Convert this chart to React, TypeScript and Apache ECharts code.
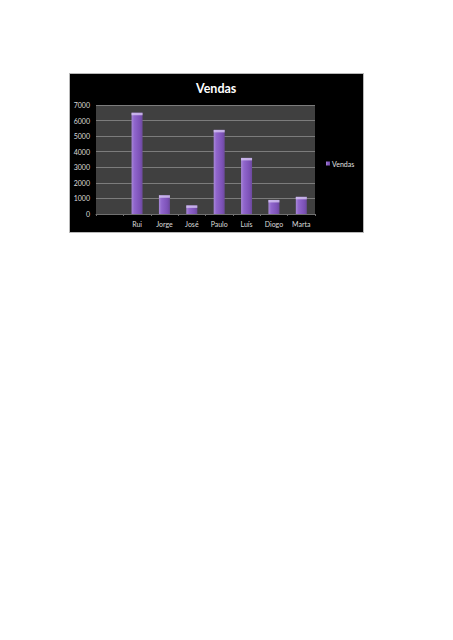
import { useEffect, useRef } from "react"
import * as echarts from "echarts"

const categories = ["", "Rui", "Jorge", "José", "Paulo", "Luís", "Diogo", "Marta"]
const vendas: (number | string)[] = ["-", 6500, 1200, 550, 5400, 3600, 900, 1100]
const yTicks = { min: 0, max: 7000, interval: 1000 }

const FONT = "Lato, 'Open Sans', sans-serif"

export default function App() {
  const chartRef = useRef<HTMLDivElement>(null)

  useEffect(() => {
    if (!chartRef.current) return
    const chart = echarts.init(chartRef.current, null, { renderer: "svg" })

    const option: echarts.EChartsOption = {
      animation: false,
      backgroundColor: "#ffffff",
      textStyle: { fontFamily: FONT },
      graphic: [
        {
          type: "rect",
          z: -10,
          shape: { x: 69.5, y: 73.5, width: 294, height: 159 },
          style: { fill: "#000000", stroke: "#b8b8b8", lineWidth: 1 },
        },
      ],
      title: {
        text: "Vendas",
        left: 196,
        top: 82,
        textStyle: { color: "#ffffff", fontSize: 12.5, fontWeight: "bold", fontFamily: FONT },
        padding: 0,
      },
      legend: {
        data: ["Vendas"],
        left: 326,
        top: 160,
        icon: "rect",
        itemWidth: 4,
        itemHeight: 4,
        padding: 0,
        textStyle: { color: "#e0e0e0", fontSize: 7, fontFamily: FONT, padding: [0, 0, 0, -3] },
      },
      grid: {
        left: 96,
        top: 105,
        right: 138,
        bottom: 426,
        show: true,
        backgroundColor: "#404040",
        borderWidth: 0,
      },
      xAxis: {
        type: "category",
        data: categories,
        axisLine: { lineStyle: { color: "#707070", width: 1 } },
        axisTick: { show: true, length: 2, lineStyle: { color: "#707070" } },
        axisLabel: { color: "#dcdcdc", fontSize: 7, margin: 6, fontFamily: FONT, interval: 0 },
      },
      yAxis: {
        type: "value",
        min: yTicks.min,
        max: yTicks.max,
        interval: yTicks.interval,
        axisLine: { show: false },
        axisTick: { show: false },
        axisLabel: {
          color: "#dcdcdc",
          fontSize: 7,
          margin: 6,
          fontFamily: FONT,
          formatter: (v: number) => String(v),
        },
        splitLine: { lineStyle: { color: "#7c7c7c", width: 1 } },
      },
      series: [
        {
          name: "Vendas",
          type: "bar",
          data: vendas,
          barWidth: 11,
          itemStyle: {
            color: new echarts.graphic.LinearGradient(0, 0, 1, 0, [
              { offset: 0, color: "#a888d8" },
              { offset: 0.25, color: "#9066cc" },
              { offset: 0.75, color: "#7d52b8" },
              { offset: 1, color: "#6c4a9c" },
            ]),
          },
        },
        {
          name: "topo",
          type: "scatter",
          data: vendas,
          symbol: "rect",
          symbolSize: [11, 2.5],
          symbolOffset: [0, 1.2],
          itemStyle: { color: "#d6c6f2" },
          z: 3,
          silent: true,
          tooltip: { show: false },
        },
      ],
    }

    chart.setOption(option)
    return () => chart.dispose()
  }, [])

  return (
    <div
      ref={chartRef}
      style={{ position: "fixed", left: 0, top: 0, width: 453, height: 640 }}
    />
  )
}
